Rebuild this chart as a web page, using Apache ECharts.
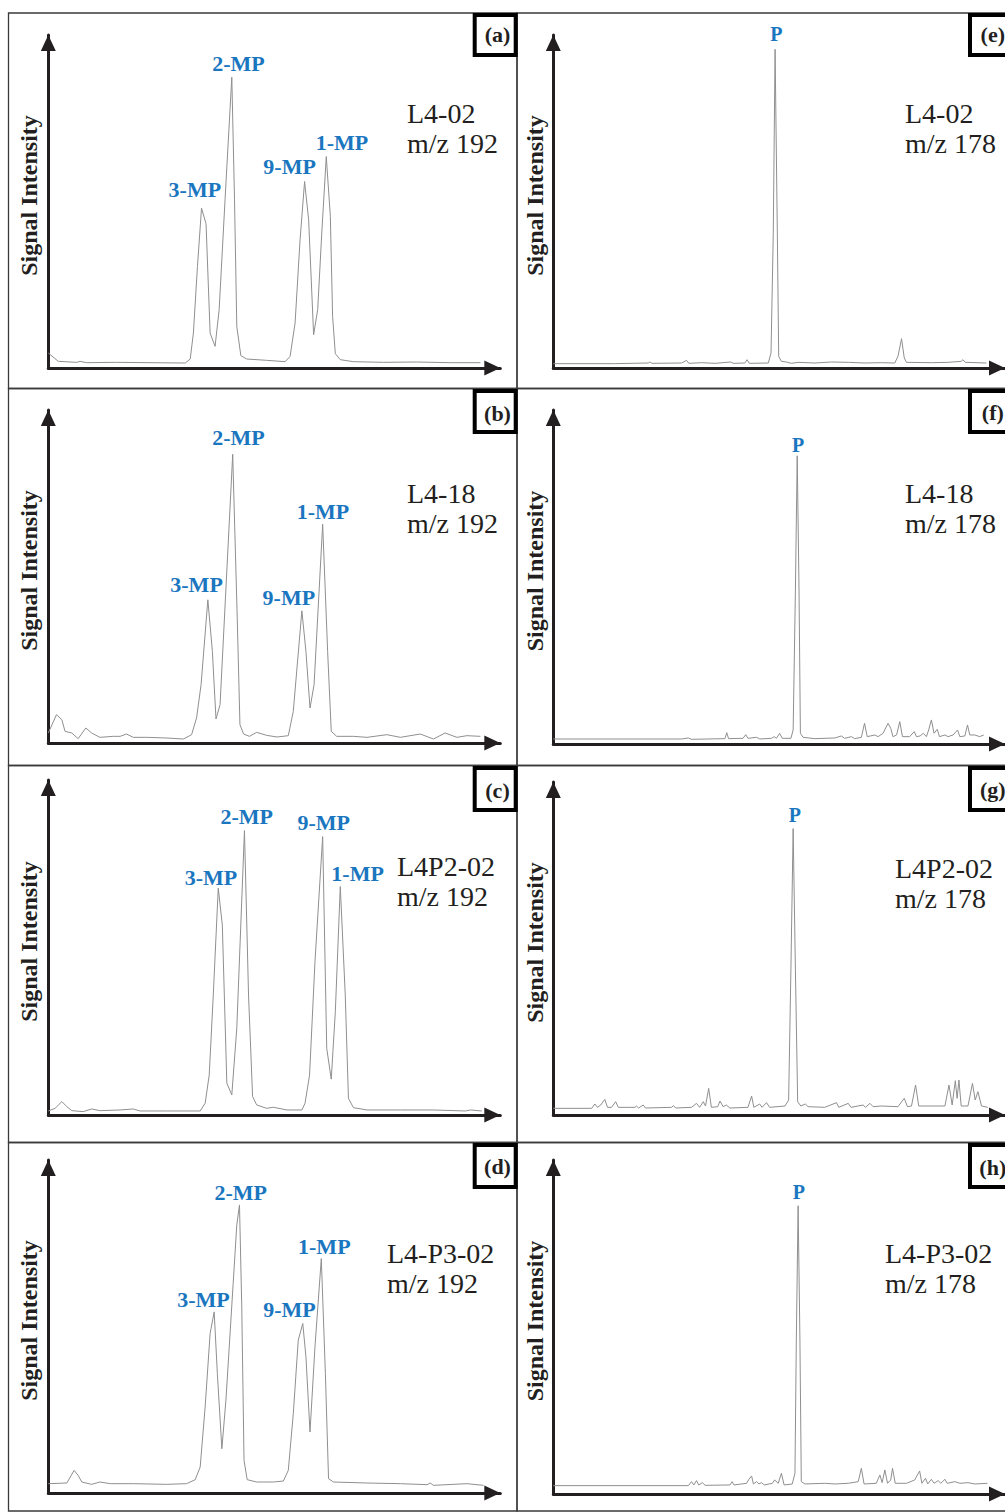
<!DOCTYPE html>
<html>
<head>
<meta charset="utf-8">
<script src="https://cdn.jsdelivr.net/npm/echarts@6.0.0/dist/echarts.min.js"></script>
<style>
html,body{margin:0;padding:0;background:#ffffff;}
#chart{width:1005px;height:1512px;}
</style>
</head>
<body>
<div id="chart"></div>
<script>
// ---------------- DATA ----------------
const panelLetters = ['(a)', '(b)', '(c)', '(d)', '(e)', '(f)', '(g)', '(h)'];
const sampleNames = ['L4-02', 'L4-18', 'L4P2-02', 'L4-P3-02'];
const massMP = 'm/z 192';
const massP = 'm/z 178';
const yAxisTitle = 'Signal Intensity';
const mpPeakNames = ['3-MP', '2-MP', '9-MP', '1-MP'];
const pPeakNames = ['P'];

// retention position (0-100 of axis length) and relative signal (0-100 of axis height)
const traceA = [[0,4.5],[2.2,2.0],[6.3,1.7],[7.0,2.0],[8.5,1.6],[15.1,1.7],[22.5,1.6],[30.3,1.5],[31.4,2.7],[32.1,10.5],[33.0,30.5],[33.9,48.0],[34.9,43.3],[35.8,10.5],[36.9,6.5],[37.8,17.5],[39.1,50.5],[40.6,87.3],[41.2,50.5],[41.7,12.5],[42.6,3.7],[43.9,2.7],[48.3,2.3],[52.4,1.9],[53.5,3.5],[54.6,13.5],[55.7,38.5],[56.7,56.0],[57.6,44.5],[58.7,10.0],[59.6,17.5],[60.5,40.5],[61.5,63.5],[62.4,45.5],[62.9,15.5],[63.5,4.3],[64.6,2.5],[67.5,1.9],[74.2,1.7],[81.5,1.8],[88.9,1.6],[95.6,1.6]];
const traceB = [[0,3.0],[1.8,8.5],[3.0,7.0],[3.7,3.5],[5.2,3.0],[6.6,1.3],[8.3,4.5],[9.6,3.0],[11.4,1.7],[14.4,2.0],[15.9,2.0],[17.3,2.7],[18.8,1.7],[21.8,1.7],[26.2,1.5],[29.9,1.2],[31.7,2.5],[32.8,7.5],[33.8,17.5],[35.3,43.0],[36.3,27.5],[37.1,7.2],[38.0,11.5],[40.8,86.7],[41.8,37.5],[42.4,5.5],[43.2,2.7],[44.5,2.0],[46.1,3.2],[48.3,2.3],[50.6,1.8],[53.1,2.2],[54.2,9.5],[56.1,39.7],[57.0,27.5],[57.9,10.5],[58.8,17.5],[60.7,65.7],[61.8,27.5],[62.6,3.5],[63.8,2.0],[67.5,2.0],[70.5,1.7],[74.9,2.5],[77.9,1.7],[82.3,2.7],[85.2,1.2],[87.8,3.0],[90.4,1.7],[92.6,2.2],[95.6,2.0]];
const traceC = [[0,1.2],[1.5,2.0],[3.0,4.0],[4.1,2.5],[5.2,1.3],[7.7,1.0],[9.6,1.8],[11.4,1.3],[15.9,1.5],[18.8,1.8],[20.3,1.2],[26.2,1.2],[33.6,1.2],[34.7,3.5],[35.6,11.9],[36.5,35.8],[37.6,67.7],[38.5,56.7],[39.5,9.5],[40.6,6.0],[41.7,25.9],[43.4,84.9],[44.3,35.8],[45.2,5.5],[46.1,3.0],[48.3,2.0],[49.8,2.3],[52.8,1.5],[56.1,1.5],[56.8,3.5],[57.8,11.9],[59.0,45.8],[60.7,83.1],[61.6,19.9],[62.6,10.7],[63.5,30.8],[64.6,68.2],[65.7,35.8],[66.4,5.0],[67.5,2.2],[70.5,1.5],[77.9,1.5],[85.2,1.5],[92.3,1.2],[93.4,1.5],[95.9,1.2]];
const traceD = [[0,2.8],[4.1,3.0],[5.7,6.8],[6.6,5.3],[7.4,3.3],[9.6,2.6],[11.4,3.3],[13.7,2.8],[18.8,2.8],[26.2,2.6],[30.6,2.8],[32.5,4.0],[33.6,7.8],[34.7,25.9],[35.8,47.9],[36.7,54.4],[37.4,35.9],[38.4,13.3],[39.3,27.9],[40.9,62.9],[41.7,80.5],[42.3,86.5],[42.8,55.9],[43.3,9.8],[44.0,4.0],[46.1,3.3],[49.8,3.3],[52.0,3.6],[53.1,6.8],[54.2,23.8],[55.3,45.9],[56.3,50.9],[57.0,40.9],[57.9,18.3],[59.0,43.9],[60.4,70.4],[61.3,35.9],[62.0,4.3],[63.1,3.3],[70.5,3.0],[77.9,2.8],[83.8,2.5],[84.5,3.0],[85.2,2.3],[92.6,2.8],[96.3,2.3]];
const traceE = [[0,1.3],[13.6,1.3],[21.0,1.5],[21.4,1.8],[21.8,1.4],[28.4,1.5],[29.5,2.3],[30.0,1.4],[32.8,1.6],[35.8,1.4],[39.3,1.8],[39.8,1.4],[42.4,1.5],[42.9,2.5],[43.4,1.4],[47.6,1.5],[48.2,4.5],[48.7,40.5],[49.1,95.7],[49.6,40.5],[49.9,3.5],[50.5,2.0],[51.6,1.8],[52.7,1.4],[54.2,1.7],[57.9,1.5],[61.6,1.8],[65.3,1.7],[69.0,1.5],[72.6,1.6],[75.6,1.5],[76.3,3.5],[77.1,8.8],[77.7,3.0],[78.2,1.7],[83.7,1.6],[87.4,1.7],[90.3,2.0],[90.7,2.5],[91.2,1.7],[95.9,1.5]];
const traceF = [[0,1.5],[28.4,1.5],[29.9,1.8],[30.6,1.4],[38.0,1.6],[38.4,3.4],[38.8,1.6],[42.0,1.7],[42.6,2.8],[43.1,1.7],[45.0,2.0],[45.7,1.5],[48.3,1.7],[48.9,2.2],[49.4,1.7],[50.1,3.2],[50.7,1.7],[52.6,1.7],[53.1,4.2],[53.6,46.1],[54.0,86.3],[54.4,46.1],[54.7,3.2],[55.3,2.0],[57.9,1.6],[62.3,1.8],[63.8,2.4],[64.5,1.7],[66.0,2.2],[66.7,1.6],[68.2,2.0],[68.9,6.2],[69.5,2.2],[71.2,2.7],[71.9,2.2],[73.0,3.2],[74.1,6.2],[74.7,4.7],[75.2,2.2],[76.0,2.7],[76.7,6.7],[77.3,2.2],[78.9,2.2],[79.9,3.7],[80.4,2.2],[81.2,2.4],[81.9,3.2],[82.6,2.2],[83.1,4.2],[83.7,7.2],[84.3,3.2],[85.0,4.4],[85.5,2.2],[86.7,2.7],[87.4,2.2],[88.5,2.7],[89.5,4.2],[90.0,2.2],[91.1,2.4],[91.7,5.7],[92.2,2.7],[93.3,2.7],[94.4,2.2],[95.3,2.7]];
const traceG = [[0,2.0],[8.5,2.0],[9.2,3.3],[9.8,2.3],[10.5,3.0],[11.4,4.7],[12.0,2.3],[12.9,2.3],[13.8,4.0],[14.4,2.3],[18.1,2.3],[18.4,2.7],[18.9,2.1],[19.9,3.0],[20.4,2.1],[26.2,2.3],[26.6,2.8],[27.1,2.1],[30.6,2.3],[31.7,3.5],[32.4,2.3],[33.2,4.0],[33.7,2.7],[34.4,8.0],[35.0,2.3],[36.4,2.5],[36.9,4.2],[37.6,2.5],[38.3,3.0],[39.1,2.1],[43.1,2.3],[43.9,5.7],[44.4,2.3],[45.7,3.3],[46.2,2.3],[47.2,3.7],[47.9,2.3],[51.3,2.7],[52.1,4.5],[52.6,43.5],[53.1,86.0],[53.6,43.5],[54.1,4.0],[54.8,2.7],[55.8,3.3],[56.4,2.5],[60.1,2.3],[62.7,3.7],[63.2,2.3],[65.3,3.5],[65.9,2.3],[68.6,3.0],[69.1,2.3],[70.1,3.5],[70.8,2.5],[72.6,2.7],[76.3,2.5],[77.7,5.0],[78.4,2.5],[79.3,2.7],[80.2,9.0],[80.9,2.7],[86.7,2.7],[87.6,9.0],[88.3,3.0],[89.0,10.3],[89.4,5.0],[89.8,10.5],[90.3,2.7],[91.8,2.7],[92.8,9.5],[93.4,4.5],[94.0,7.0],[94.8,2.7],[96.2,2.3]];
const traceH = [[0,2.5],[29.9,2.5],[30.6,3.7],[31.1,2.7],[31.7,4.0],[32.2,2.7],[33.0,3.4],[33.6,2.6],[39.1,2.7],[39.6,3.7],[40.0,2.7],[42.8,3.2],[43.3,4.4],[43.9,5.4],[44.3,3.0],[45.0,3.7],[45.5,3.0],[46.1,3.4],[46.7,2.7],[48.5,3.2],[49.0,4.2],[49.8,3.2],[50.5,6.2],[51.1,2.7],[52.9,3.0],[53.5,6.2],[53.8,46.1],[54.2,86.3],[54.6,46.1],[54.9,3.7],[55.7,3.0],[60.1,3.2],[62.3,3.0],[65.3,3.2],[67.5,3.7],[68.2,7.7],[68.8,3.0],[71.5,3.2],[72.3,5.7],[72.8,3.4],[73.4,7.2],[74.0,3.2],[74.7,4.2],[75.1,7.7],[75.7,3.2],[78.2,3.2],[80.0,4.2],[81.1,6.9],[81.6,3.2],[82.4,4.7],[82.9,3.0],[83.7,4.4],[84.3,3.2],[85.2,4.0],[85.8,3.2],[86.7,4.4],[87.2,3.2],[88.9,3.7],[90.0,3.2],[91.8,3.4],[93.3,3.0],[96.1,3.2]];

// retention positions of labelled peaks
const peakRtA = [33.9, 40.6, 56.7, 61.5];
const peakRtB = [35.3, 40.8, 56.1, 60.7];
const peakRtC = [37.6, 43.4, 60.7, 64.6];
const peakRtD = [36.7, 42.3, 56.3, 60.4];
const peakRtE = [49.1];
const peakRtF = [54.0];
const peakRtG = [53.1];
const peakRtH = [54.2];

// ---------------- LAYOUT / STYLE ----------------
const SERIF = '"Liberation Serif", "Times New Roman", serif';
const BLUE = '#1b76c0';
const INK = '#231f20';
const TRACE = '#8f8f8f';

const panels = [
  {trace: traceA, names: mpPeakNames, rts: peakRtA, sample: sampleNames[0], mass: massMP, letter: panelLetters[0]},
  {trace: traceB, names: mpPeakNames, rts: peakRtB, sample: sampleNames[1], mass: massMP, letter: panelLetters[1]},
  {trace: traceC, names: mpPeakNames, rts: peakRtC, sample: sampleNames[2], mass: massMP, letter: panelLetters[2]},
  {trace: traceD, names: mpPeakNames, rts: peakRtD, sample: sampleNames[3], mass: massMP, letter: panelLetters[3]},
  {trace: traceE, names: pPeakNames, rts: peakRtE, sample: sampleNames[0], mass: massP, letter: panelLetters[4]},
  {trace: traceF, names: pPeakNames, rts: peakRtF, sample: sampleNames[1], mass: massP, letter: panelLetters[5]},
  {trace: traceG, names: pPeakNames, rts: peakRtG, sample: sampleNames[2], mass: massP, letter: panelLetters[6]},
  {trace: traceH, names: pPeakNames, rts: peakRtH, sample: sampleNames[3], mass: massP, letter: panelLetters[7]}
];

const rowTops = [13, 388.5, 765.5, 1142.5, 1511];
const boxRows = [[13, 57], [389, 434], [766, 812], [1143, 1189]];
const layout = [
  {col:0,row:0,left:48.3,top:35,width:452,height:333, off:[[-6.7,12],[6.7,6.7],[-15,8.3],[15.7,6.7]], sx:407, sy:122, ly:34},
  {col:0,row:1,left:48.3,top:410,width:452,height:333, off:[[-11.3,8.3],[5.7,9.3],[-13,6],[0.3,6]], sx:407, sy:502, ly:413},
  {col:0,row:2,left:48.3,top:780,width:452,height:335, off:[[-7.3,4],[2.3,7.3],[1,7.3],[17.3,6]], sx:397, sy:875, ly:790},
  {col:0,row:3,left:48.3,top:1160,width:452,height:333, off:[[-10.7,5],[1.3,5],[-13.3,6.7],[3,5]], sx:387, sy:1262, ly:1166},
  {col:1,row:0,left:553.3,top:35,width:452,height:333, off:[[1.3,8.7]], sx:905, sy:122, ly:34},
  {col:1,row:1,left:553.3,top:410,width:452,height:334, off:[[1,4.7]], sx:905, sy:502, ly:412},
  {col:1,row:2,left:553.3,top:782,width:452,height:333, off:[[1.7,6.7]], sx:895, sy:877, ly:789},
  {col:1,row:3,left:553.3,top:1160,width:452,height:334, off:[[0.7,7.3]], sx:885, sy:1262, ly:1167}
];

function yAt(trace, x) {
  const p = trace.find(function (d) { return d[0] === x; });
  return p ? p[1] : 0;
}

const grids = [], xAxes = [], yAxes = [], series = [], graphics = [];

panels.forEach(function (p, i) {
  const L = layout[i];
  grids.push({left: L.left, top: L.top, width: L.width, height: L.height, containLabel: false});
  const axisLine = {
    show: true, onZero: false,
    lineStyle: {color: INK, width: 3},
    symbol: ['none', 'triangle'], symbolSize: [15, 16], symbolOffset: [0, -8]
  };
  xAxes.push({type: 'value', gridIndex: i, min: 0, max: 100, axisLine: axisLine,
    axisTick: {show: false}, axisLabel: {show: false}, splitLine: {show: false}});
  yAxes.push({type: 'value', gridIndex: i, min: 0, max: 100, axisLine: axisLine,
    axisTick: {show: false}, axisLabel: {show: false}, splitLine: {show: false},
    name: yAxisTitle, nameLocation: 'middle', nameRotate: 90, nameGap: L.col === 0 ? 7 : 6,
    nameTextStyle: {fontFamily: SERIF, fontWeight: 'bold', fontSize: 24, color: INK, padding: [0, 0, 0, 12]}});
  const fs = p.names.length > 1 ? 22 : 20;
  series.push({
    type: 'line', xAxisIndex: i, yAxisIndex: i, data: p.trace,
    showSymbol: false, symbol: 'none', silent: true, animation: false,
    lineStyle: {color: TRACE, width: 1},
    markPoint: {
      silent: true, animation: false, symbol: 'circle', symbolSize: 1,
      itemStyle: {color: 'rgba(0,0,0,0)'},
      data: p.rts.map(function (rt, k) {
        return {
          coord: [rt, yAt(p.trace, rt)],
          label: {
            show: true, position: 'top', distance: 0,
            offset: [L.off[k][0], -(L.off[k][1] - 0.2 * fs)],
            formatter: p.names[k], color: BLUE, fontFamily: SERIF, fontWeight: 'bold', fontSize: fs
          }
        };
      })
    }
  });

  // panel frame
  const x0 = L.col === 0 ? 8.5 : 517;
  const x1 = L.col === 0 ? 517 : 1012;
  graphics.push({type: 'rect', z: 0, silent: true,
    shape: {x: x0, y: rowTops[L.row], width: x1 - x0, height: rowTops[L.row + 1] - rowTops[L.row]},
    style: {fill: 'none', stroke: '#3a3a3a', lineWidth: 1.3}});
  // sample name
  graphics.push({type: 'text', z: 10, silent: true, x: L.sx, y: L.sy - 24,
    style: {text: p.sample + '\n' + p.mass, fontFamily: SERIF, fontSize: 28, lineHeight: 30,
      fill: INK, align: 'left', verticalAlign: 'top'}});
});

// panel letter boxes (drawn after frames)
panels.forEach(function (p, i) {
  const L = layout[i];
  const bx = L.col === 0 ? 472.7 : 968;
  const br = boxRows[L.row];
  graphics.push({type: 'rect', z: 20, silent: true,
    shape: {x: bx + 2, y: br[0] + 2, width: 41, height: br[1] - br[0] - 4},
    style: {fill: '#ffffff', stroke: '#000000', lineWidth: 4}});
  graphics.push({type: 'text', z: 21, silent: true, x: bx + 24.8, y: L.ly,
    style: {text: p.letter, fontFamily: SERIF, fontWeight: 'bold', fontSize: 22, fill: INK,
      align: 'center', verticalAlign: 'middle'}});
});

const chart = echarts.init(document.getElementById('chart'), null, {renderer: 'svg', width: 1005, height: 1512});
chart.setOption({
  backgroundColor: '#ffffff',
  animation: false,
  textStyle: {fontFamily: SERIF},
  grid: grids,
  xAxis: xAxes,
  yAxis: yAxes,
  series: series,
  graphic: {elements: graphics}
});
</script>
</body>
</html>
